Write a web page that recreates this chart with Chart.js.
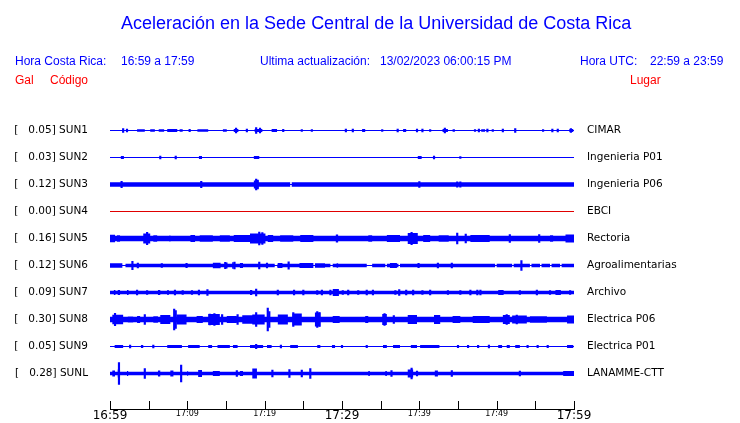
<!DOCTYPE html>
<html>
<head>
<meta charset="utf-8">
<script src="https://cdn.jsdelivr.net/npm/chart.js@4/dist/chart.umd.min.js"></script>
<style>
	body { margin: 0; background: #fff; }
	#wrap { position: relative; width: 740px; height: 423px; }
	#wrap canvas { position: absolute; left: 0; top: 0; }
	.t { position: absolute; white-space: pre; font-family: "Liberation Sans", Arial, sans-serif; font-size: 12px; line-height: 12px; color: #0000ff; }
	.titulo { font-size: 18px; line-height: 18px; }
	.rojo { color: #ff0000; }
</style>
</head>
<body>
<div id="wrap">
	<canvas id="chartContainer" width="740" height="423"></canvas>
	<div class="t titulo" style="left:121px; top:14px">Aceleración en la Sede Central de la Universidad de Costa Rica</div>
	<div class="t" style="left:15px; top:55px">Hora Costa Rica:</div>
	<div class="t" id="horaLocal" style="left:121px; top:55px"></div>
	<div class="t" style="left:260px; top:55px">Ultima actualización:</div>
	<div class="t" id="actualizacion" style="left:380px; top:55px"></div>
	<div class="t" style="left:580px; top:55px">Hora UTC:</div>
	<div class="t" id="horaUtc" style="left:650px; top:55px"></div>
	<div class="t rojo" style="left:15px; top:74px">Gal</div>
	<div class="t rojo" style="left:50px; top:74px">Código</div>
	<div class="t rojo" style="left:630px; top:74px">Lugar</div>
</div>
<script>
// minutos desde las 16:59, amplitudes relativas (separacion entre trazas = 27)
const horaLocal = "16:59 a 17:59";
const horaUtc = "22:59 a 23:59";
const actualizacion = "13/02/2023 06:00:15 PM";

const codes = ["SUN1", "SUN2", "SUN3", "SUN4", "SUN5", "SUN6", "SUN7", "SUN8", "SUN9", "SUNL"];
const gal = ["0.05", "0.03", "0.12", "0.00", "0.16", "0.12", "0.09", "0.30", "0.05", "0.28"];
const lugares = ["CIMAR", "Ingenieria P01", "Ingenieria P06", "EBCI", "Rectoria", "Agroalimentarias", "Archivo", "Electrica P06", "Electrica P01", "LANAMME-CTT"];
const tickLabels = ["16:59", "17:09", "17:19", "17:29", "17:39", "17:49", "17:59"];

// amplitud del ruido de fondo de cada traza
const baseAmp = [0, 0, 2.2, 0, 2.7, 1.8, 1.8, 2.8, 0, 1.8];

// rafagas [inicio, fin, amplitud]
const sun1Bursts = [[3.5, 4.5, 1.2], [5.2, 5.8, 1.2], [6.3, 7.0, 1.2], [7.4, 8.7, 1.5], [9.0, 9.4, 1.2], [11.3, 12.7, 1.2], [14.6, 15.1, 1.2], [16.0, 16.6, 1.5], [18.7, 19.7, 1.5], [20.9, 21.6, 1.5], [32.6, 33.0, 1.5], [37.9, 38.3, 1.5], [43.0, 43.7, 1.5], [44.3, 44.6, 1.2], [48.0, 48.5, 1.2], [59.4, 59.9, 1.5]];
const sun2Bursts = [[1.4, 1.8, 1.5], [11.5, 11.9, 1.5], [18.6, 19.3, 1.5], [39.8, 40.3, 1.5]];
const sun3Bursts = [[18.6, 19.2, 4], [23.3, 23.5, 0.5]];
const sun4Bursts = [];
const sun5Bursts = [[0, 0.65, 3.8], [0.9, 1.3, 3.2], [4.3, 5.2, 5], [5.6, 6.1, 3.2], [7.7, 7.8, 3.2], [10.4, 11.0, 3.6], [11.6, 13.3, 3.2], [14.2, 15.5, 3.2], [16.0, 18.1, 3.6], [18.1, 20.1, 5], [20.4, 21.1, 3.6], [22.0, 23.7, 3.2], [24.6, 26.3, 3.6], [29.2, 29.5, 4], [33.4, 33.9, 3.2], [35.8, 37.5, 3.6], [38.5, 39.8, 5.5], [40.5, 41.4, 3.6], [42.5, 43.8, 3.2], [46.6, 49.1, 3.6], [56.9, 57.3, 3.3], [58.9, 60, 4]];
const sun6Bursts = [[0, 1.6, 2.2], [1.6, 2.0, 0.6], [13.3, 14.3, 2.8], [15.0, 15.2, 3], [15.8, 16.0, 3.2], [16.8, 17.2, 2.5], [21.3, 21.6, 0.6], [21.7, 22.3, 2.5], [24.5, 26.3, 2.5], [26.3, 26.5, 0.6], [26.5, 27.8, 2.2], [28.5, 28.8, 0.6], [29.3, 29.5, 2.2], [33.2, 33.9, 0.6], [35.6, 35.8, 0.6], [36.2, 37.1, 2.5], [37.3, 37.5, 0.6], [49.8, 50.0, 0.6], [52.0, 52.2, 0.6], [54.3, 54.5, 0.6], [55.6, 55.8, 0.6], [56.9, 57.1, 0.6], [58.2, 58.4, 0.6]];
const sun7Bursts = [[0.5, 0.7, 2.5], [1.0, 1.3, 2.5], [2.2, 2.4, 2.5], [6.2, 6.5, 2.5], [7.4, 7.6, 2.5], [18.1, 18.4, 2.5], [28.8, 29.6, 3.5], [50.2, 50.9, 2.5], [57.6, 58.3, 2.5]];
const sun8Bursts = [[0.3, 1.7, 4.7], [2.3, 3.0, 3], [3.5, 3.9, 3.5], [5.6, 6.2, 3.2], [6.5, 7.8, 4.5], [8.6, 9.9, 5], [11.2, 12.0, 3.5], [12.7, 14.2, 5.5], [15.1, 16.4, 3.5], [17.1, 18.4, 4.2], [18.4, 20.0, 5], [21.7, 23.0, 5], [23.6, 24.8, 6], [26.5, 27.2, 7], [28.8, 29.7, 3.5], [33.0, 33.4, 3.5], [35.2, 35.8, 5.5], [38.5, 39.7, 4.5], [41.9, 42.7, 4.5], [44.3, 45.3, 3.5], [46.9, 49.1, 3.5], [50.8, 51.7, 4.5], [52.0, 53.9, 4], [54.3, 56.5, 3.2], [59.1, 60, 4]];
const sun9Bursts = [[0.6, 1.7, 1.5], [4.0, 4.3, 1.5], [7.4, 9.3, 1.5], [10.1, 11.6, 1.5], [12.7, 13.2, 1.5], [13.9, 15.5, 1.5], [15.9, 16.5, 1.5], [18.1, 19.8, 1.5], [20.3, 20.9, 1.5], [23.3, 24.3, 1.5], [26.8, 27.2, 1.5], [28.7, 29.1, 1.5], [35.3, 35.8, 1.5], [36.6, 37.5, 1.5], [38.9, 39.7, 1.5], [40.1, 42.6, 1.5], [50.2, 50.7, 1.5], [51.3, 51.7, 1.5], [52.4, 53.0, 1.5], [59.1, 59.9, 1.5]];
const sunlBursts = [[0.3, 0.65, 3], [1.0, 1.3, 4], [2.2, 2.35, 2.5], [6.2, 6.5, 3], [7.8, 8.2, 3], [10.0, 10.1, 2.5], [11.4, 11.9, 3.5], [13.3, 14.2, 2.5], [16.8, 17.2, 2.5], [18.4, 19.0, 5], [33.4, 33.6, 2.5], [35.6, 35.8, 2.5], [38.5, 39.2, 4], [42.0, 42.4, 3], [58.6, 60, 2.5]];

// picos aislados [minuto, amplitud]
const sun1Spikes = [[1.7, 2], [2.2, 1.5], [10.3, 1.2], [16.3, 2.5], [17.7, 1.5], [18.9, 3], [19.4, 2.5], [22.4, 1.2], [24.8, 1], [26.1, 1], [30.5, 1.5], [31.4, 1.5], [35.2, 1], [37.2, 1.5], [39.7, 1.5], [40.4, 1.5], [41.4, 1], [43.3, 2.5], [47.2, 1], [47.7, 1.5], [48.8, 1.5], [49.5, 1], [50.8, 1.5], [52.4, 2], [56.0, 1], [57.2, 1.5], [57.9, 1.5], [59.6, 2]];
const sun2Spikes = [[6.5, 1.5], [8.5, 1.5], [41.9, 1.5], [45.3, 1]];
const sun3Spikes = [[1.5, 3.2], [11.8, 3.2], [18.9, 5.3], [19.1, 4.5], [40.0, 3], [44.9, 2.7], [45.3, 2.7]];
const sun4Spikes = [];
const sun5Spikes = [[4.8, 6.2], [19.3, 6.5], [19.7, 6], [39.0, 6.2], [44.9, 5.5], [46.0, 4.5], [51.7, 4], [55.5, 3.8]];
const sun6Spikes = [[2.9, 4.2], [3.6, 2.5], [6.7, 1.8], [9.9, 2.2], [14.9, 3.2], [16.1, 3.5], [19.3, 3.5], [20.3, 2.5], [23.1, 3.6], [39.9, 2.2], [42.4, 2.5], [44.2, 2.5], [53.2, 5]];
const sun7Spikes = [[3.5, 2.5], [4.8, 2], [8.4, 2.5], [9.4, 2], [10.6, 2], [11.5, 2.5], [12.6, 3], [18.9, 3.5], [21.7, 2.5], [23.8, 2.5], [25.0, 2.5], [26.8, 2], [27.4, 2.5], [28.5, 2.5], [30.1, 2], [30.8, 2.5], [32.1, 2], [33.2, 2.5], [34.0, 2.5], [36.9, 2], [37.4, 3], [38.3, 2.5], [39.2, 2.5], [40.4, 2], [41.4, 2.5], [43.7, 2], [45.3, 2], [46.6, 2.5], [47.5, 2.5], [47.9, 2.5], [53.0, 2], [55.2, 2.5], [56.9, 2], [59.5, 2]];
const sun8Spikes = [[0.65, 6.2], [4.5, 5], [8.3, 10.5], [8.5, 9], [12.9, 5.5], [13.5, 6], [14.5, 5], [16.5, 5], [18.9, 7], [20.4, 11.5], [20.6, 8], [23.7, 7], [26.8, 8], [27.1, 7], [35.5, 6], [36.7, 4], [51.3, 5], [52.6, 4.5]];
const sun9Spikes = [[2.6, 1.5], [5.6, 1.5], [18.9, 2.2], [22.1, 1.3], [30.0, 1.2], [33.2, 1.2], [45.0, 1.2], [46.3, 1.2], [47.6, 1.2], [49.0, 1.3], [54.0, 1.2], [55.3, 1.2], [56.6, 1.2]];
const sunlSpikes = [[1.16, 11], [4.5, 5], [9.2, 8.5], [16.4, 3], [21.0, 3.5], [23.2, 4], [24.8, 3.5], [25.9, 5], [36.4, 3], [39.0, 5.3], [39.7, 2.5], [44.2, 3], [53.0, 2.5]];

const bursts = [sun1Bursts, sun2Bursts, sun3Bursts, sun4Bursts, sun5Bursts, sun6Bursts, sun7Bursts, sun8Bursts, sun9Bursts, sunlBursts];
const spikes = [sun1Spikes, sun2Spikes, sun3Spikes, sun4Spikes, sun5Spikes, sun6Spikes, sun7Spikes, sun8Spikes, sun9Spikes, sunlSpikes];

const SLOT = 27;
const DURACION = 60;
const AZUL = "#0000ff";
const ROJO = "#e00000";

document.getElementById("horaLocal").textContent = horaLocal;
document.getElementById("horaUtc").textContent = horaUtc;
document.getElementById("actualizacion").textContent = actualizacion;

function envelope(base, list) {
	var pts = [{ x: 0, a: base }];
	list.forEach(([s, e, a]) => {
		pts.push({ x: s, a: base }, { x: s, a: a }, { x: e, a: a }, { x: e, a: base });
	});
	pts.push({ x: DURACION, a: base });
	return pts;
}

var datasets = [];
codes.forEach((code, i) => {
	const c = SLOT * (i + 1);
	const color = code == "SUN4" ? ROJO : AZUL;
	const env = envelope(baseAmp[i], bursts[i]);
	const upperIndex = datasets.length;
	datasets.push({
		type: "line",
		data: env.map((p) => ({ x: p.x, y: c - p.a })),
		borderColor: "transparent",
		borderWidth: 0,
		pointRadius: 0,
		fill: false,
	});
	datasets.push({
		type: "line",
		data: env.map((p) => ({ x: p.x, y: c + p.a })),
		borderColor: "transparent",
		borderWidth: 0,
		pointRadius: 0,
		backgroundColor: color,
		fill: upperIndex,
	});
	datasets.push({
		type: "line",
		data: [{ x: 0, y: c }, { x: DURACION, y: c }],
		borderColor: color,
		borderWidth: 1,
		pointRadius: 0,
		fill: false,
	});
	datasets.push({
		type: "bar",
		data: spikes[i].map(([t, a]) => ({ x: t, y: [c - a, c + a] })),
		backgroundColor: color,
		borderWidth: 0,
		barThickness: 1.5,
		grouped: false,
	});
});

const centers = codes.map((code, i) => SLOT * (i + 1));

const axisTicks = {
	id: "axisTicks",
	afterDraw(chart) {
		const x = chart.scales.x;
		const ctx = chart.ctx;
		const bottom = Math.round(chart.chartArea.bottom);
		ctx.save();
		ctx.strokeStyle = "#000";
		ctx.lineWidth = 1;
		ctx.beginPath();
		ctx.moveTo(x.left, bottom + 0.5);
		ctx.lineTo(x.right + 1, bottom + 0.5);
		x.ticks.forEach((t, i) => {
			const px = Math.round(x.getPixelForTick(i)) + 0.5;
			ctx.moveTo(px, bottom + 1);
			ctx.lineTo(px, bottom - 8);
		});
		ctx.stroke();
		ctx.restore();
	},
};

const yTicks = {
	display: true,
	color: "#000",
	font: { family: "'DejaVu Sans'", size: 10.5 },
	autoSkip: false,
	padding: 0,
};

function fixWidth(width) {
	return (scale) => {
		scale.width = width;
		scale.paddingTop = 0;
		scale.paddingBottom = 0;
	};
}

new Chart(document.getElementById("chartContainer"), {
	type: "line",
	data: { datasets: datasets },
	plugins: [axisTicks],
	options: {
		responsive: false,
		animation: false,
		events: [],
		layout: { padding: { top: 103.5, left: 0, right: 0, bottom: 0 } },
		plugins: { legend: { display: false }, tooltip: { enabled: false } },
		scales: {
			x: {
				type: "linear",
				min: 0,
				max: DURACION,
				offset: false,
				grid: { display: false, drawTicks: false },
				border: { display: false },
				afterFit: (scale) => {
					scale.height = 14;
				},
				ticks: {
					stepSize: 5,
					autoSkip: false,
					maxRotation: 0,
					padding: 0,
					color: "#000",
					callback: (value) => (value % 10 === 0 ? tickLabels[value / 10] : ""),
					font: (ctx) => ({
						family: "'DejaVu Sans'",
						size: ctx.tick && ctx.tick.value % 30 === 0 ? 12 : 8,
					}),
				},
			},
			y: {
				type: "linear",
				position: "left",
				min: 0,
				max: SLOT * 11 + 8.5,
				reverse: true,
				grid: { display: false, drawTicks: true, tickLength: 22 },
				border: { display: false },
				afterFit: fixWidth(110),
				afterBuildTicks: (scale) => {
					scale.ticks = centers.map((v) => ({ value: v }));
				},
				ticks: Object.assign({}, yTicks, {
					callback: (value, index) => "[   " + gal[index] + "] " + codes[index],
				}),
			},
			y2: {
				type: "linear",
				position: "right",
				min: 0,
				max: SLOT * 11 + 8.5,
				reverse: true,
				grid: { display: false, drawTicks: true, tickLength: 13 },
				border: { display: false },
				afterFit: fixWidth(166),
				afterBuildTicks: (scale) => {
					scale.ticks = centers.map((v) => ({ value: v }));
				},
				ticks: Object.assign({}, yTicks, {
					callback: (value, index) => lugares[index],
				}),
			},
		},
	},
});
</script>
</body>
</html>
